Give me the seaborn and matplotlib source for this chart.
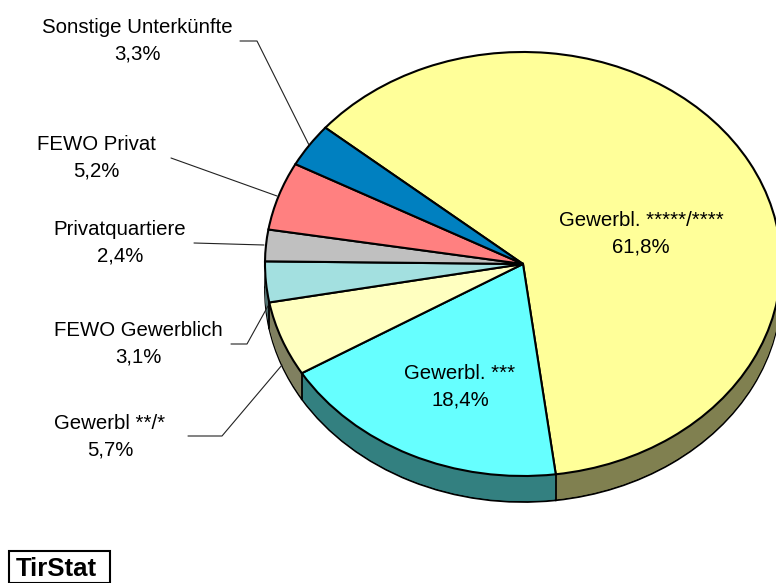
import numpy as np
import matplotlib
matplotlib.use('Agg')
import matplotlib.pyplot as plt
from matplotlib.patches import Rectangle
import seaborn as sns

sns.set_theme(style='white')
plt.rcParams['font.family'] = ['Liberation Sans', 'DejaVu Sans']

labels = ['Gewerbl. *****/****', 'Gewerbl. ***', 'Gewerbl **/*', 'FEWO Gewerblich',
          'Privatquartiere', 'FEWO Privat', 'Sonstige Unterkünfte']
pct_text = ['61,8%', '18,4%', '5,7%', '3,1%', '2,4%', '5,2%', '3,3%']
values = [61.8, 18.4, 5.7, 3.1, 2.4, 5.2, 3.3]
colors = ['#FFFF99', '#66FFFF', '#FFFFC0', '#A3E0E0', '#C0C0C0', '#FF8080', '#0080C0']
side_colors = ['#808050', '#338080', '#808060', '#52706F', '#606060', '#804040', '#004060']

# pixel geometry of the picture
W, H = 776, 583
cx, cy, rx, ry = 523, 264, 258, 212
depth = 26
start = 140


def to_data(px, py):
    return (px - cx) / rx, (cy - py) / ry


fig = plt.figure(figsize=(W / 100, H / 100), dpi=100)
ax = fig.add_axes([0, 0, 1, 1])

# side of the pie: stack of shifted pies
for d in range(depth, 0, -1):
    edge = 'black' if d == depth else 'none'
    w, _ = ax.pie(values, colors=side_colors, startangle=start, counterclock=False,
                  center=(0, -d / ry), radius=1, normalize=True,
                  wedgeprops=dict(edgecolor=edge, linewidth=1.3))
w, _ = ax.pie(values, colors=colors, startangle=start, counterclock=False,
              center=(0, 0), radius=1, normalize=True,
              wedgeprops=dict(edgecolor='black', linewidth=1.5))

ax.set_aspect('auto')
ax.set_xlim(-cx / rx, (W - cx) / rx)
ax.set_ylim((cy - H) / ry, cy / ry)
ax.axis('off')

# vertical edges of the side where visible
cum = np.cumsum(values)
for i in [0, 1, 2]:
    ang = np.deg2rad(start - cum[i] / sum(values) * 360)
    x, y = np.cos(ang), np.sin(ang)
    ax.plot([x, x], [y, y - depth / ry], color='black', lw=1.3, zorder=5)

fs = 14.7
ls = 1.48
# labels inside the pie
ax.text(*to_data(641, 234), labels[0] + '\n' + pct_text[0], ha='center', va='center',
        fontsize=fs, color='black', linespacing=ls, zorder=6)
ax.text(*to_data(460, 387), labels[1] + '\n' + pct_text[1], ha='center', va='center',
        fontsize=fs, color='black', linespacing=ls, zorder=6)

# labels outside with leader lines
outer = [
    (2, 110, 437, [(188, 436), (222, 436), (282, 365)]),
    (3, 138, 344, [(231, 344), (247, 344), (268, 306)]),
    (4, 120, 243, [(194, 243), (264, 245)]),
    (5, 96, 158, [(171, 158), (277, 196)]),
    (6, 137, 41, [(240, 41), (257, 41), (309, 145)]),
]
for i, px, py, line in outer:
    ax.text(*to_data(px, py), labels[i] + '\n' + pct_text[i], ha='center', va='center',
            fontsize=fs, color='black', linespacing=ls, zorder=6)
    pts = np.array([to_data(*p) for p in line])
    ax.plot(pts[:, 0], pts[:, 1], color='#222222', lw=0.8, zorder=4)

# source box
x0, y0 = to_data(9, 583)
x1, y1 = to_data(110, 551)
ax.add_patch(Rectangle((x0, y0), x1 - x0, y1 - y0, facecolor='white', edgecolor='black',
                       linewidth=1.5, zorder=5))
ax.text(*to_data(56, 569), 'TirStat', ha='center', va='center', fontsize=18.5,
        fontweight='bold', color='black', zorder=6)

fig.savefig('out.png', dpi=100)
